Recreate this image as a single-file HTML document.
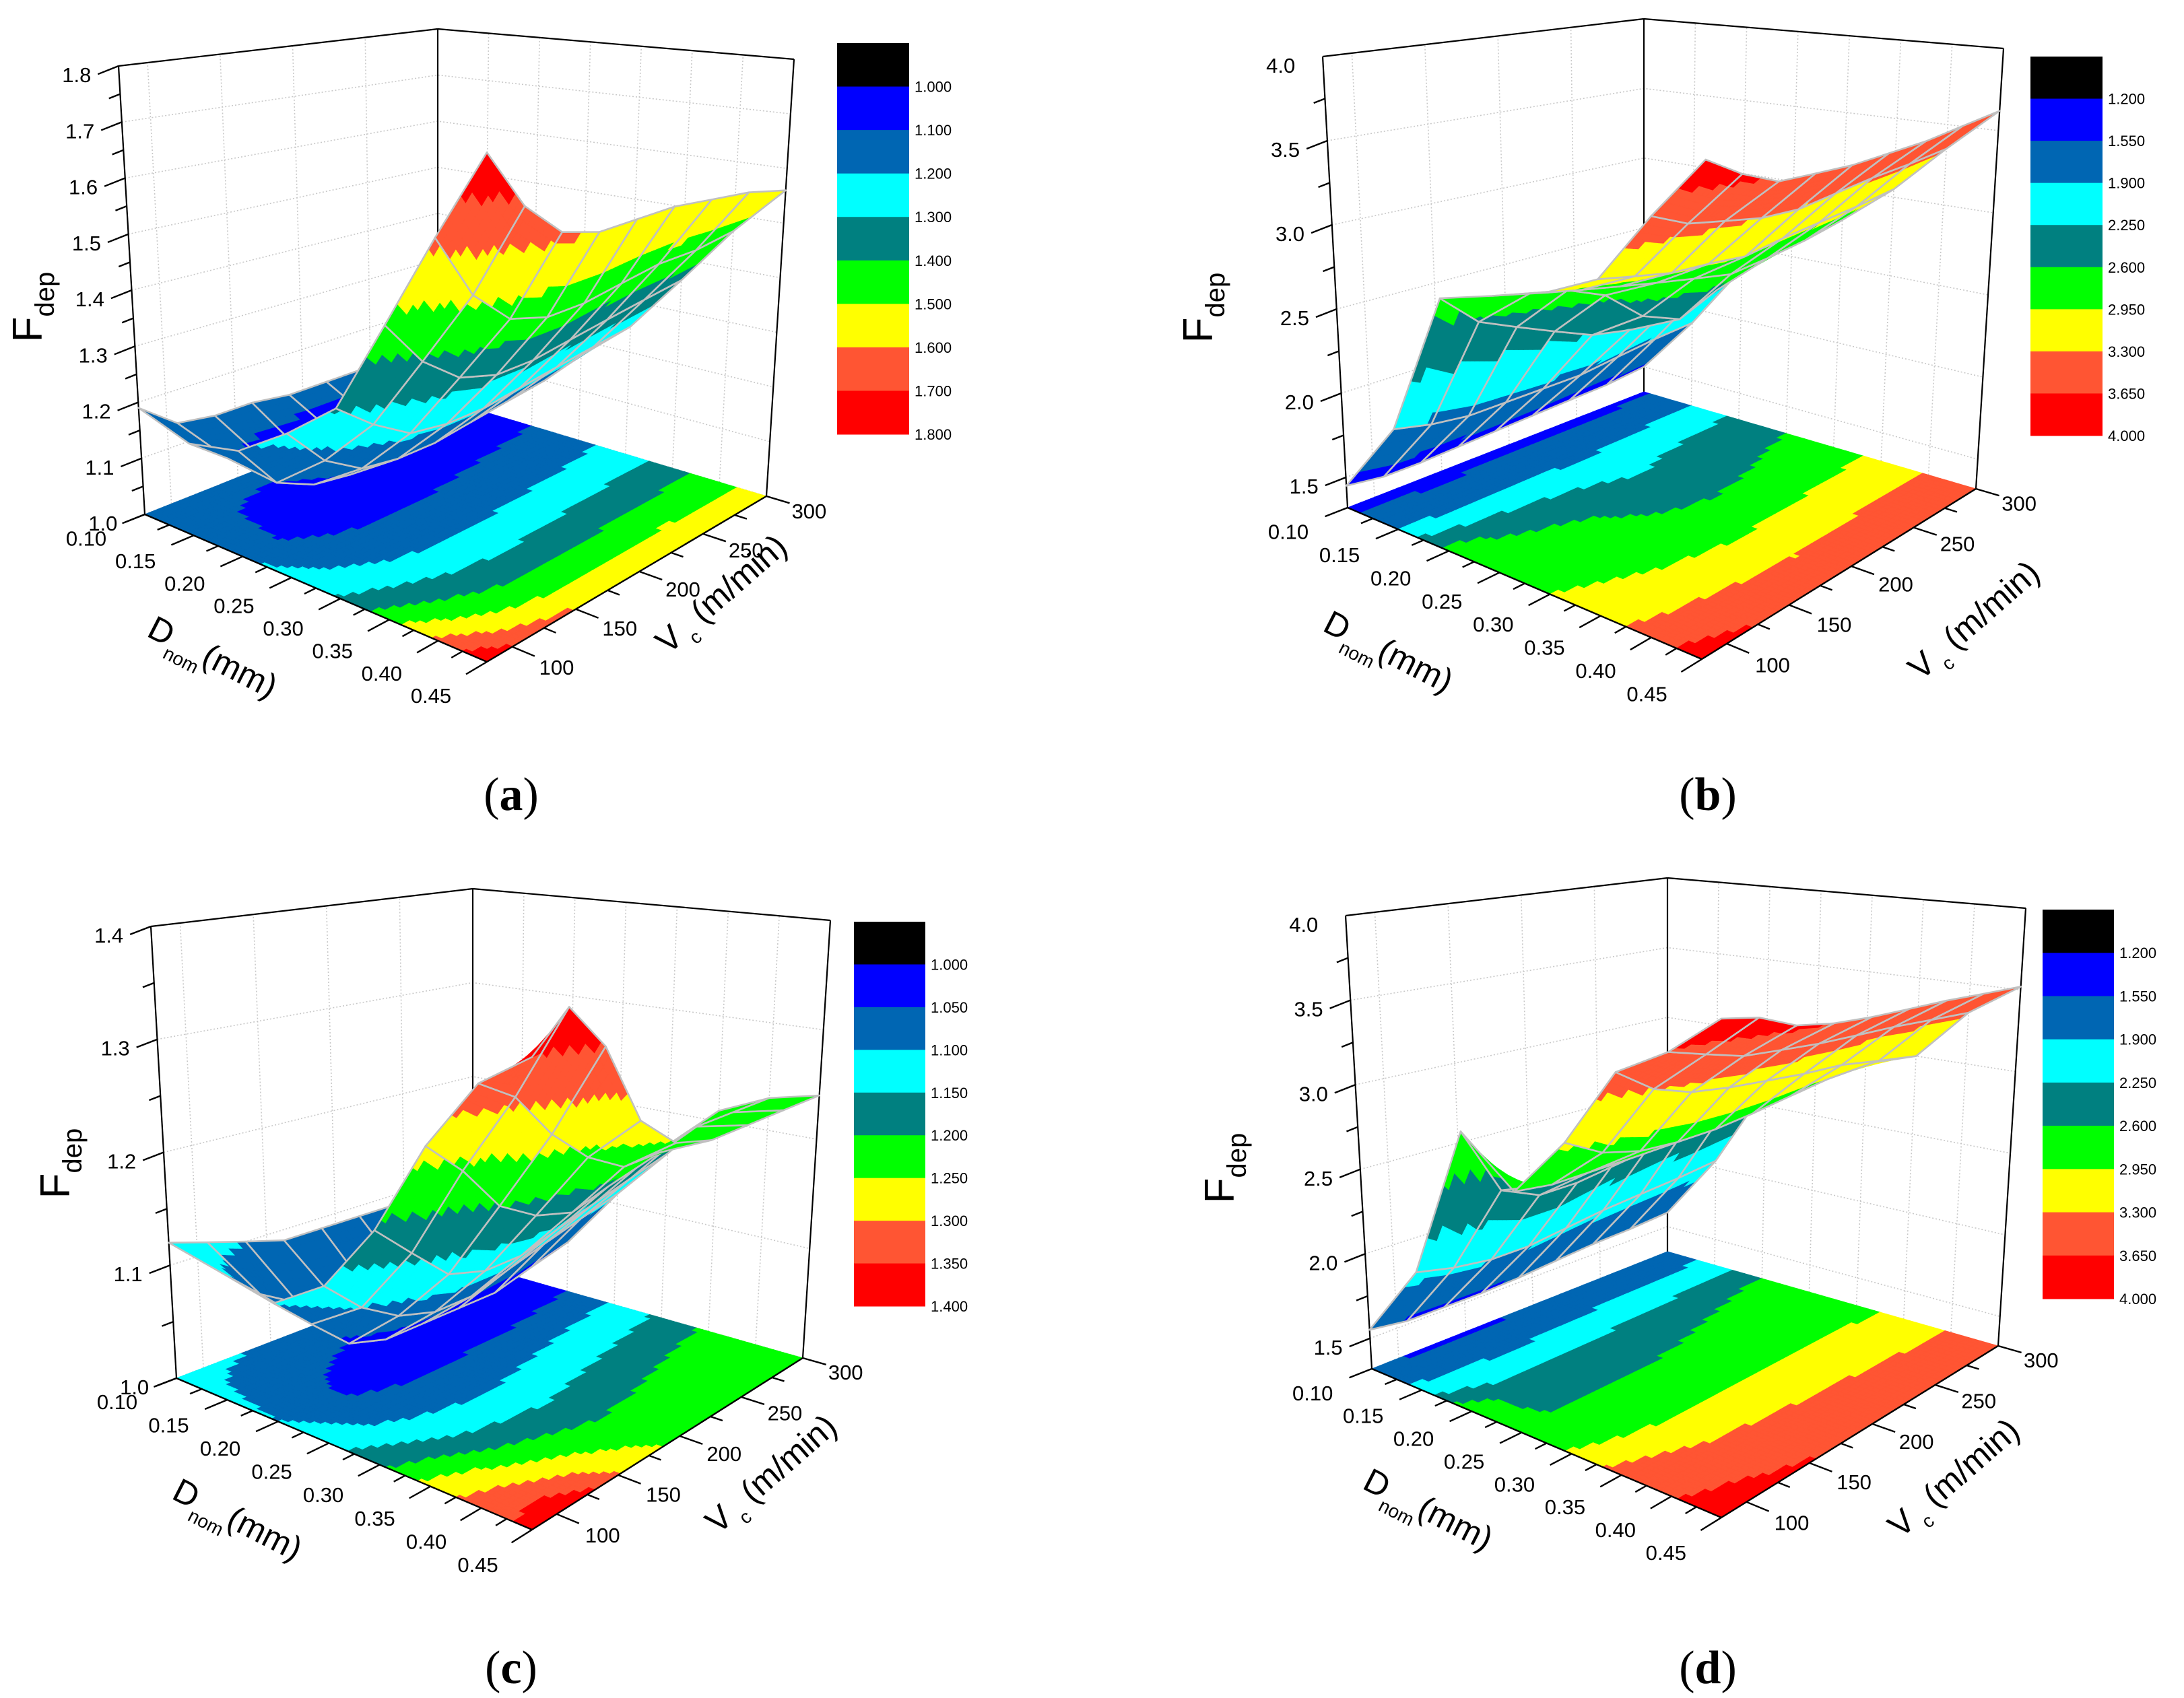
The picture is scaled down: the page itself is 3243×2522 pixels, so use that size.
<!DOCTYPE html>
<html>
<head>
<meta charset="utf-8">
<style>
html,body{margin:0;padding:0;background:#fff;}
svg{display:block;}
text{font-family:"Liberation Sans",Arial,sans-serif;fill:#000;}
</style>
</head>
<body>
<svg id="fig" xmlns="http://www.w3.org/2000/svg" width="3243" height="2522" viewBox="0 0 3243 2522">
<rect x="0" y="0" width="3243" height="2522" fill="#fff"/>
</svg>
<script>
const dVals=[0.10,0.15,0.20,0.25,0.30,0.35,0.40,0.45];
const vVals=[80,107.5,135,162.5,190,217.5,245,272.5,300];
const zA=[
[1.19,1.14,1.13,1.13,1.12,1.12,1.12,1.12,1.13],
[1.16,1.11,1.08,1.07,1.07,1.07,1.08,1.09,1.10],
[1.18,1.10,1.07,1.06,1.06,1.07,1.08,1.09,1.10],
[1.24,1.17,1.13,1.12,1.12,1.13,1.14,1.15,1.17],
[1.31,1.26,1.22,1.21,1.21,1.22,1.23,1.24,1.25],
[1.47,1.39,1.34,1.32,1.32,1.33,1.34,1.35,1.36],
[1.63,1.52,1.46,1.44,1.44,1.45,1.46,1.46,1.47],
[1.78,1.68,1.62,1.60,1.60,1.60,1.59,1.58,1.56]];
const zB=[
[1.45,1.42,1.42,1.43,1.44,1.45,1.46,1.47,1.50],
[1.90,1.85,1.82,1.82,1.82,1.82,1.85,1.88,1.90],
[2.75,2.55,2.45,2.35,2.25,2.20,2.25,2.30,2.35],
[2.85,2.80,2.75,2.65,2.45,2.35,2.45,2.55,2.60],
[2.95,2.90,2.85,2.80,2.75,2.70,2.72,2.75,2.80],
[3.10,3.05,3.00,2.98,2.95,2.98,3.00,3.02,3.05],
[3.50,3.40,3.35,3.30,3.28,3.30,3.32,3.33,3.35],
[3.85,3.72,3.62,3.60,3.58,3.58,3.58,3.60,3.62]];
const zC=[
[1.12,1.11,1.10,1.09,1.09,1.09,1.09,1.10,1.10],
[1.11,1.08,1.06,1.05,1.04,1.04,1.04,1.04,1.05],
[1.10,1.07,1.04,1.03,1.03,1.03,1.03,1.04,1.05],
[1.13,1.10,1.08,1.07,1.07,1.08,1.09,1.10,1.11],
[1.19,1.16,1.13,1.12,1.12,1.13,1.14,1.15,1.16],
[1.27,1.24,1.20,1.18,1.17,1.18,1.19,1.20,1.21],
[1.33,1.31,1.27,1.24,1.22,1.22,1.23,1.23,1.23],
[1.36,1.39,1.35,1.28,1.25,1.24,1.24,1.24,1.24]];
const zD=[
[1.55,1.52,1.52,1.52,1.53,1.55,1.57,1.58,1.60],
[2.00,1.95,1.92,1.92,1.95,1.98,2.00,2.02,2.05],
[2.90,2.50,2.40,2.40,2.45,2.50,2.55,2.58,2.62],
[2.65,2.62,2.62,2.62,2.63,2.65,2.68,2.70,2.72],
[3.00,2.88,2.82,2.80,2.80,2.82,2.85,2.88,2.90],
[3.45,3.30,3.22,3.18,3.15,3.12,3.10,3.05,3.00],
[3.62,3.55,3.48,3.45,3.42,3.40,3.38,3.35,3.32],
[3.85,3.80,3.70,3.65,3.62,3.60,3.58,3.55,3.52]];
const levelsA=[1.0,1.1,1.2,1.3,1.4,1.5,1.6,1.7,1.8];
const levelsB=[1.2,1.55,1.9,2.25,2.6,2.95,3.3,3.65,4.0];
const levelsC=[1.0,1.05,1.1,1.15,1.2,1.25,1.3,1.35,1.4];
const zTicksA=[1.0,1.1,1.2,1.3,1.4,1.5,1.6,1.7,1.8];
const zTicksB=[1.5,2.0,2.5,3.0,3.5,4.0];
const zTicksC=[1.0,1.1,1.2,1.3,1.4];
const dTicks=[0.10,0.15,0.20,0.25,0.30,0.35,0.40,0.45];
const vTicks=[100,150,200,250,300];
const bandColors=['#000000','#0000ff','#0066b3','#00ffff','#008080','#00ff00','#ffff00','#ff5533','#ff0000'];

const panels=[
 {id:'a',z:zA,levels:levelsA,zTicks:zTicksA,zMinor:0.05,lo:1.0,hi:1.8,
  c:{p000:[215,764],p100:[723,983],p110:[1138,737],p010:[650,591],p001:[176,98],p101:[723,207],p111:[1179,88],p011:[650,43]},
  cb:[1243,64,107,581],F:[62,456],Dt:[216,944],Vt:[992,973],lab:[759,1203]},
 {id:'b',z:zB,levels:levelsB,zTicks:zTicksB,zMinor:0.25,lo:1.32,hi:4.0,
  c:{p000:[2001,754],p100:[2527,979],p110:[2934,726],p010:[2441,582],p001:[1964,84],p101:[2533,193],p111:[2975,72],p011:[2441,28]},
  cb:[3015,84,107,563],F:[1800,457],Dt:[1962,936],Vt:[2852,1012],lab:[2536,1203]},
 {id:'c',z:zC,levels:levelsC,zTicks:zTicksC,zMinor:0.05,lo:1.0,hi:1.4,
  c:{p000:[262,2047],p100:[790,2272],p110:[1192,2017],p010:[702,1878],p001:[224,1376],p101:[790,1492],p111:[1233,1367],p011:[702,1320]},
  cb:[1268,1369,106,571],F:[103,1728],Dt:[253,2225],Vt:[1066,2280],lab:[759,2500]},
 {id:'d',z:zD,levels:levelsB,zTicks:zTicksB,zMinor:0.25,lo:1.32,hi:4.0,
  c:{p000:[2037,2033],p100:[2556,2254],p110:[2967,1999],p010:[2476,1859],p001:[1998,1360],p101:[2556,1469],p111:[3008,1349],p011:[2476,1304]},
  cb:[3033,1351,106,578],F:[1832,1735],Dt:[2021,2210],Vt:[2822,2286],lab:[2536,2500]}
];

const NS='http://www.w3.org/2000/svg';
const svg=document.getElementById('fig');
function mk(tag,attrs,parent){const e=document.createElementNS(NS,tag);for(const k in attrs)e.setAttribute(k,attrs[k]);parent.appendChild(e);return e;}
function lerp(a,b,t){return [a[0]+(b[0]-a[0])*t,a[1]+(b[1]-a[1])*t];}
function proj(c,u,v,w){
  const f=lerp(lerp(c.p000,c.p100,u),lerp(c.p010,c.p110,u),v);
  const t=lerp(lerp(c.p001,c.p101,u),lerp(c.p011,c.p111,u),v);
  return lerp(f,t,w);
}
const uOf=d=>(d-0.10)/0.35;
const vOf=V=>(V-80)/220;
function band(z,L){if(z<L[0])return 0;const s=(L[8]-L[0])/8;let i=1+Math.floor((z-L[0])/s+1e-9);return Math.min(8,Math.max(1,i));}
function zAt(Z,fi,fj){const i=Math.min(Math.floor(fi),6),j=Math.min(Math.floor(fj),7);const s=fi-i,t=fj-j;
  return Z[i][j]*(1-s)*(1-t)+Z[i+1][j]*s*(1-t)+Z[i+1][j+1]*s*t+Z[i][j+1]*(1-s)*t;}
const pt=p=>p[0].toFixed(1)+','+p[1].toFixed(1);

panels.forEach(P=>{
  const c=P.c;
  const g=mk('g',{},svg);
  
  
  const W=z=>(z-P.lo)/(P.hi-P.lo);
  const grid=mk('g',{stroke:'#c8c8c8','stroke-width':'1.6','stroke-dasharray':'2,3',fill:'none'},g);
  
  
  P.zTicks.forEach(z=>{
    const w=W(z);
    const a=proj(c,0,0,w),b=proj(c,0,1,w),d=proj(c,1,1,w);
    const l=mk('polyline',{points:pt(a)+' '+pt(b)+' '+pt(d)},grid);
    
    
  });
  vTicks.forEach(V=>{
    const v=vOf(V);
    const l=mk('line',{x1:proj(c,0,v,0)[0],y1:proj(c,0,v,0)[1],x2:proj(c,0,v,1)[0],y2:proj(c,0,v,1)[1]},grid);
    
    
  });
  dTicks.forEach(D=>{
    const u=uOf(D);
    const l=mk('line',{x1:proj(c,u,1,0)[0],y1:proj(c,u,1,0)[1],x2:proj(c,u,1,1)[0],y2:proj(c,u,1,1)[1]},grid);
    
    
  });
  const ax=mk('g',{stroke:'#000','stroke-width':'2.2',fill:'none'},g);
  
  
  [['p000','p001'],['p010','p011'],['p110','p111'],['p001','p011'],['p011','p111']].forEach(e=>{
    const l=mk('line',{x1:c[e[0]][0],y1:c[e[0]][1],x2:c[e[1]][0],y2:c[e[1]][1]},ax);
    
    
  });
  const N=8;
  const U=fi=>uOf(0.10+0.05*fi),Vv=fj=>vOf(80+27.5*fj);
  const fl=mk('g',{},g);
  
  
  for(let i=0;i<7;i++)for(let j=0;j<8;j++)for(let a=0;a<N;a++)for(let b=0;b<N;b++){
    const fi0=i+a/N,fi1=i+(a+1)/N,fj0=j+b/N,fj1=j+(b+1)/N;
    const zz=(zAt(P.z,fi0,fj0)+zAt(P.z,fi1,fj0)+zAt(P.z,fi1,fj1)+zAt(P.z,fi0,fj1))/4;
    const col=bandColors[band(zz,P.levels)];
    const pts=[proj(c,U(fi0),Vv(fj0),0),proj(c,U(fi1),Vv(fj0),0),proj(c,U(fi1),Vv(fj1),0),proj(c,U(fi0),Vv(fj1),0)].map(pt).join(' ');
    const q=mk('polygon',{points:pts,fill:col,stroke:col,'stroke-width':'0.9'},fl);
    
    
  }
  const sf=mk('g',{},g);
  
  
  const cells=[];
  for(let i=0;i<7;i++)for(let j=0;j<8;j++)cells.push([i,j]);
  cells.sort((A,B)=>((A[0]-A[1]*7/8)-(B[0]-B[1]*7/8)));
  const SP=(fi,fj)=>proj(c,U(fi),Vv(fj),W(zAt(P.z,fi,fj)));
  cells.forEach(([i,j])=>{
    const subs=[];
    for(let a=0;a<N;a++)for(let b=0;b<N;b++)subs.push([a,b]);
    subs.sort((A,B)=>((A[0]-A[1])-(B[0]-B[1])));
    subs.forEach(([a,b])=>{
      const fi0=i+a/N,fi1=i+(a+1)/N,fj0=j+b/N,fj1=j+(b+1)/N;
      const zz=(zAt(P.z,fi0,fj0)+zAt(P.z,fi1,fj0)+zAt(P.z,fi1,fj1)+zAt(P.z,fi0,fj1))/4;
      const col=bandColors[band(zz,P.levels)];
      const pts=[SP(fi0,fj0),SP(fi1,fj0),SP(fi1,fj1),SP(fi0,fj1)].map(pt).join(' ');
      const q=mk('polygon',{points:pts,fill:col,stroke:col,'stroke-width':'0.9'},sf);
      
      
    });
    const pts=[SP(i,j),SP(i+1,j),SP(i+1,j+1),SP(i,j+1)].map(pt).join(' ');
    const m=mk('polygon',{points:pts,fill:'none',stroke:'#c0c0c0','stroke-width':'2.6','stroke-linejoin':'round'},sf);
    
    
  });
  const fa=mk('g',{stroke:'#000','stroke-width':'2.4',fill:'none'},g);
  
  
  [['p000','p100'],['p100','p110']].forEach(e=>{
    const l=mk('line',{x1:c[e[0]][0],y1:c[e[0]][1],x2:c[e[1]][0],y2:c[e[1]][1]},fa);
    
    
  });
  const tl=mk('g',{'font-size':'31'},g);
  
  
  const zdir=(()=>{const a=c.p000,b=c.p010;const dx=a[0]-b[0],dy=a[1]-b[1],L=Math.hypot(dx,dy);return [dx/L,dy/L];})();
  for(let z=P.lo;z<=P.hi+1e-9;z+=P.zMinor){
    const zr=Math.round(z/P.zMinor)*P.zMinor;
    if(zr<P.lo-1e-9)continue;
    const major=P.zTicks.some(t=>Math.abs(t-zr)<1e-6);
    const p=proj(c,0,0,W(zr)),len=major?33:18;
    const l=mk('line',{x1:p[0],y1:p[1],x2:p[0]+zdir[0]*len,y2:p[1]+zdir[1]*len},fa);
    
    
  }
  P.zTicks.forEach(z=>{
    const p=proj(c,0,0,W(z));
    const t=mk('text',{x:p[0]+zdir[0]*33-10,y:p[1]+zdir[1]*33+12,'text-anchor':'end'},tl);
    t.textContent=z.toFixed(1);
    
    
  });
  for(let k=0;k<=14;k++){
    const D=0.10+0.025*k,u=uOf(D),major=k%2===0;
    const a=proj(c,u,0,0),b=proj(c,u,0.1,0);const dx=a[0]-b[0],dy=a[1]-b[1],L=Math.hypot(dx,dy),len=major?36:19;
    const l=mk('line',{x1:a[0],y1:a[1],x2:a[0]+dx/L*len,y2:a[1]+dy/L*len},fa);
    
    
  }
  dTicks.forEach(D=>{
    const p=proj(c,uOf(D),-0.2,0);
    const t=mk('text',{x:p[0],y:p[1]+12,'text-anchor':'middle'},tl);
    t.textContent=D.toFixed(2);
    
    
  });
  for(let V=100;V<=300;V+=25){
    const v=vOf(V),major=V%50===0;
    const a=proj(c,1,v,0),b=proj(c,0.9,v,0);const dx=a[0]-b[0],dy=a[1]-b[1],L=Math.hypot(dx,dy),len=major?36:19;
    const l=mk('line',{x1:a[0],y1:a[1],x2:a[0]+dx/L*len,y2:a[1]+dy/L*len},fa);
    
    
  }
  vTicks.forEach(V=>{
    const p=proj(c,1.13,vOf(V),0);
    const t=mk('text',{x:p[0],y:p[1]+14,'text-anchor':'middle'},tl);
    t.textContent=String(V);
    
    
  });
  const dt=mk('text',{transform:'translate('+P.Dt[0]+','+P.Dt[1]+') rotate(27)','font-size':'50'},g);
  dt.innerHTML='D<tspan font-size="28" dy="18">nom</tspan><tspan dy="-18">(mm)</tspan>';
  
  
  const vt=mk('text',{transform:'translate('+P.Vt[0]+','+P.Vt[1]+') rotate(-41)','font-size':'50'},g);
  vt.innerHTML='V<tspan font-size="28" dy="16"> c</tspan><tspan dy="-16"> (m/min)</tspan>';
  
  
  const ft=mk('text',{transform:'translate('+P.F[0]+','+P.F[1]+') rotate(-90)','font-size':'62','text-anchor':'middle'},g);
  ft.innerHTML='F<tspan font-size="40" dy="18">dep</tspan>';
  
  
  const cb=mk('g',{},g);
  
  
  const [cx,cy,cw,ch]=P.cb,bh=ch/9;
  bandColors.forEach((col,k)=>{
    const r=mk('rect',{x:cx,y:cy+k*bh,width:cw,height:bh+0.5,fill:col},cb);
    
    
  });
  P.levels.forEach((L,k)=>{
    const t=mk('text',{x:cx+cw+8,y:cy+(k+1)*bh+8,'font-size':'22'},cb);
    t.textContent=L.toFixed(3);
    
    
  });
  const pl=mk('text',{x:P.lab[0],y:P.lab[1],'font-size':'70','text-anchor':'middle',style:'font-family:"Liberation Serif",serif'},g);
  pl.innerHTML='(<tspan font-weight="bold">'+P.id+'</tspan>)';
  
  
});
</script>
</body>
</html>
